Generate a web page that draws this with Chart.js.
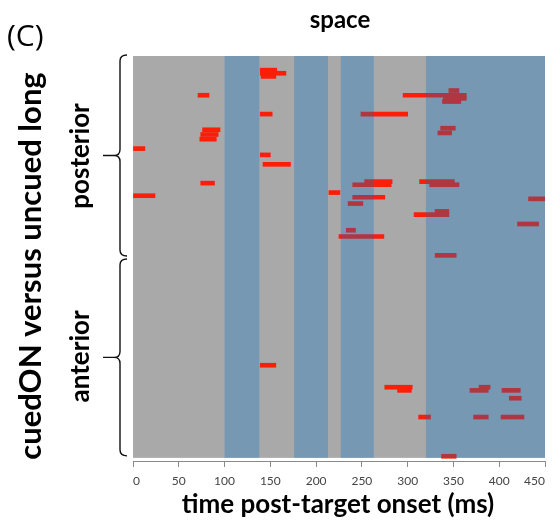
<!DOCTYPE html>
<html>
<head>
<meta charset="utf-8">
<script src="https://cdn.jsdelivr.net/npm/chart.js@4/dist/chart.umd.min.js"></script>
<style>
  html, body { margin: 0; padding: 0; background: #ffffff; }
  #wrap { width: 554px; height: 532px; position: relative; }
</style>
</head>
<body>
<div id="wrap"><canvas id="c" width="554" height="532"></canvas></div>
<script>
// Time axis (ms) and channel rows
const timeTicks = [0, 50, 100, 150, 200, 250, 300, 350, 400, 450];
const channelCount = 128;

// Time windows shaded blue
const bandStart = [100, 176, 227, 320];
const bandEnd   = [138, 213, 263, 450];

// Significant intervals: channel row, onset (ms), offset (ms)
const segChannel = [4.5, 5.5, 6.5, 11, 12.5, 12.5, 13.5, 14.5, 18.5, 18.5,
                    23.5, 23, 24.5, 25, 26.5, 29.5, 31.5, 34.5, 40, 41,
                    40.5, 40, 41, 43.5, 44.5, 45, 47, 45.5, 49.5, 50.5,
                    53.5, 55.5, 57.5, 63.5, 98.5, 105.5, 106.5, 105.5, 106.5, 106.5,
                    109, 115, 115, 115, 127.5];
const segOnset   = [139, 139, 140, 345, 71, 295, 339, 338, 139, 249,
                    76, 336, 333, 74, 73, 0, 139, 142, 253, 240,
                    74, 313, 324, 214, 0, 240, 235, 432, 330, 307,
                    420, 233, 225, 330, 139, 275, 289, 378, 368, 403,
                    411, 312, 372, 402, 337];
const segOffset  = [157, 167, 156, 356, 83, 364, 364, 358, 152, 300,
                    95, 352, 348, 93, 91, 13, 150, 172, 283, 282,
                    89, 351, 356, 226, 24, 275, 251, 450, 345, 345,
                    443, 243, 274, 353, 156, 305, 304, 390, 388, 423,
                    424, 325, 388, 427, 353];

const segments = segChannel.map((ch, i) => ({ y: ch, x: [segOnset[i], segOffset[i]] }));

const GREY = '#a9a9a9';
const BAND_OVERLAY = 'rgba(0,112,202,0.30)';

function brace(ctx, x, top, bottom, tipX) {
  const mid = (top + bottom) / 2;
  ctx.beginPath();
  ctx.moveTo(x + 7, top);
  ctx.quadraticCurveTo(x, top, x, top + 6);
  ctx.lineTo(x, mid - 6);
  ctx.quadraticCurveTo(x, mid, x - 6, mid);
  ctx.lineTo(tipX, mid);
  ctx.moveTo(x - 6, mid);
  ctx.quadraticCurveTo(x, mid, x, mid + 6);
  ctx.lineTo(x, bottom - 6);
  ctx.quadraticCurveTo(x, bottom, x + 7, bottom);
  ctx.stroke();
}

const panelPlugin = {
  id: 'panel',
  beforeDatasetsDraw(chart) {
    const { ctx, scales: { x, y } } = chart;
    const x0 = x.getPixelForValue(0), x1 = x.getPixelForValue(450);
    const y0 = y.getPixelForValue(0), y1 = y.getPixelForValue(channelCount);
    ctx.save();
    ctx.fillStyle = GREY;
    ctx.fillRect(x0, y0, x1 - x0, y1 - y0);
    ctx.restore();
  },
  afterDatasetsDraw(chart) {
    const { ctx, scales: { x, y } } = chart;
    const y0 = y.getPixelForValue(0), y1 = y.getPixelForValue(channelCount);
    ctx.save();
    ctx.fillStyle = BAND_OVERLAY;
    bandStart.forEach((s, i) => {
      const a = x.getPixelForValue(s), b = x.getPixelForValue(bandEnd[i]);
      ctx.fillRect(a, y0, b - a, y1 - y0);
    });
    ctx.restore();
  },
  afterDraw(chart) {
    const { ctx, scales: { x, y } } = chart;
    ctx.save();
    ctx.fillStyle = '#000';
    ctx.textAlign = 'center';
    ctx.textBaseline = 'middle';

    // panel label and title
    ctx.font = '30px "Open Sans", sans-serif';
    ctx.textAlign = 'left';
    ctx.fillText('(C)', 7, 37);
    ctx.textAlign = 'center';
    ctx.font = 'bold 24px Lato, sans-serif';
    ctx.fillText('space', 340, 20);

    // x axis title
    ctx.font = 'bold 26px Lato, sans-serif';
    ctx.fillText('time post-target onset (ms)', 338, 505);

    // braces for electrode groups
    const yTop = y.getPixelForValue(0) - 1;
    const yMid = y.getPixelForValue(channelCount / 2);
    const yBot = y.getPixelForValue(channelCount) - 2;
    ctx.strokeStyle = '#111';
    ctx.lineWidth = 1.4;
    brace(ctx, 120, yTop, yMid - 1, 103);
    brace(ctx, 120, yMid + 2, yBot, 103);

    // rotated labels
    const rot = (text, cx, cy, font) => {
      ctx.save();
      ctx.translate(cx, cy);
      ctx.rotate(-Math.PI / 2);
      ctx.font = font;
      ctx.fillText(text, 0, 0);
      ctx.restore();
    };
    rot('posterior', 81, (yTop + yMid) / 2, 'bold 26px Lato, sans-serif');
    rot('anterior', 81, (yMid + yBot) / 2, 'bold 26px Lato, sans-serif');
    rot('cuedON versus uncued long', 31, 266, 'bold 31px Lato, sans-serif');
    ctx.restore();
  }
};

new Chart(document.getElementById('c'), {
  type: 'bar',
  data: {
    datasets: [{
      data: segments,
      backgroundColor: 'rgb(252,30,8)',
      borderWidth: 0,
      borderSkipped: false,
      barThickness: 4
    }]
  },
  options: {
    indexAxis: 'y',
    responsive: false,
    animation: false,
    events: [],
    layout: { padding: { left: 133, right: 9, top: 56, bottom: 41 } },
    plugins: { legend: { display: false }, tooltip: { enabled: false }, title: { display: false } },
    scales: {
      x: {
        type: 'linear',
        min: 0, max: 450,
        offset: false,
        afterBuildTicks(scale) { scale.ticks = timeTicks.map(v => ({ value: v })); },
        afterFit(scale) { scale.paddingLeft = 0; scale.paddingRight = 0; scale.height = 30; },
        ticks: { color: '#444', font: { family: 'Lato, sans-serif', size: 12 }, padding: 7, maxRotation: 0, align: 'inner' },
        grid: { display: true, drawOnChartArea: false, drawTicks: true, tickLength: 6, color: '#8a8a8a', offset: false },
        border: { display: true, color: '#8a8a8a', width: 1 }
      },
      y: {
        type: 'linear',
        reverse: true,
        offset: false,
        min: 0, max: channelCount + 1,
        display: false
      }
    }
  },
  plugins: [panelPlugin]
});
</script>
</body>
</html>
